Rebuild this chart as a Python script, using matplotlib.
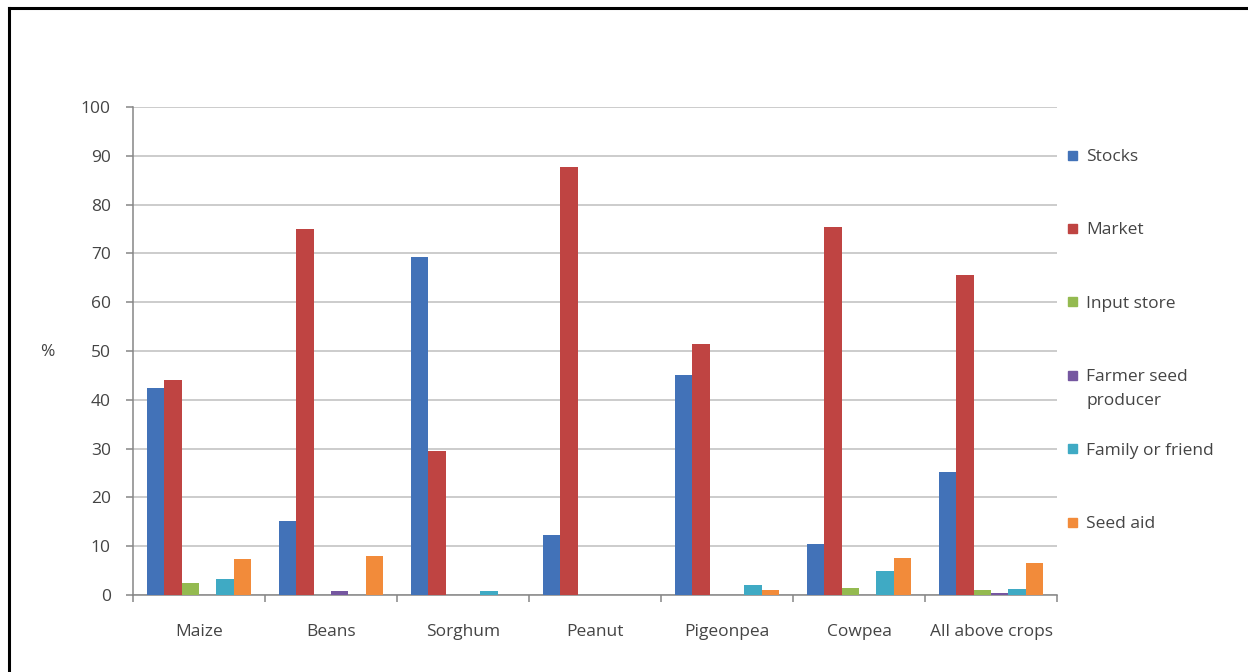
import numpy as np
import matplotlib
matplotlib.use("Agg")
import matplotlib.pyplot as plt
from matplotlib.patches import Rectangle
from matplotlib.lines import Line2D

# --- Datos: origen de la semilla por cultivo (%) ---
cultivos = ["Maize", "Beans", "Sorghum", "Peanut", "Pigeonpea", "Cowpea", "All above crops"]
fuentes = ["Stocks", "Market", "Input store", "Farmer seed\nproducer", "Family or friend", "Seed aid"]

stocks = [42.5, 15.2, 69.3, 12.3, 45.0, 10.4, 25.3]
market = [44.0, 75.0, 29.5, 87.8, 51.5, 75.5, 65.5]
input_store = [2.5, 0.0, 0.0, 0.0, 0.0, 1.4, 1.0]
farmer_seed = [0.0, 0.9, 0.0, 0.0, 0.0, 0.0, 0.5]
family_friend = [3.3, 0.0, 0.9, 0.0, 2.0, 4.9, 1.2]
seed_aid = [7.3, 7.9, 0.0, 0.0, 1.0, 7.6, 6.5]

series = [stocks, market, input_store, farmer_seed, family_friend, seed_aid]
colores = ["#4272B8", "#BF4442", "#94BA50", "#7557A0", "#3FAAC4", "#F28B3A"]

plt.rcParams["font.family"] = ["Open Sans", "DejaVu Sans"]
texto = "#444444"
tam = 12.5

W, H = 1248, 672
fig = plt.figure(figsize=(W / 100, H / 100), dpi=100)

# marco negro del recuadro (arriba e izquierda)
fig.add_artist(Line2D([9 / W, 9 / W], [0, 1 - 8 / H], transform=fig.transFigure,
                      color="black", lw=2.2))
fig.add_artist(Line2D([9 / W, 1], [1 - 8 / H, 1 - 8 / H], transform=fig.transFigure,
                      color="black", lw=2.2))

ax = fig.add_axes([133 / W, 1 - 595 / H, (1057 - 133) / W, (595 - 107) / H])

x = np.arange(len(cultivos))
ancho = 0.131
for i, (vals, col) in enumerate(zip(series, colores)):
    desplaz = (i - 2.5) * ancho
    ax.bar(x + desplaz, vals, width=ancho, color=col, linewidth=0, zorder=3)

ax.set_xlim(-0.5, len(cultivos) - 0.5)
ax.set_ylim(0, 100)
ax.set_yticks(range(0, 101, 10))
ax.grid(axis="y", color="#BFBFBF", lw=1.1, zorder=0)

for lado in ["top", "right"]:
    ax.spines[lado].set_visible(False)
for lado in ["left", "bottom"]:
    ax.spines[lado].set_color("#868686")
    ax.spines[lado].set_linewidth(1.1)

ax.tick_params(axis="y", direction="out", length=5, width=1.1, color="#868686",
               labelsize=tam, labelcolor=texto, pad=11)
ax.set_xticks(x)
ax.set_xticklabels(cultivos)
ax.tick_params(axis="x", which="major", length=0, labelsize=tam, labelcolor=texto, pad=21)
ax.set_xticks(np.arange(-0.5, len(cultivos)), minor=True)
ax.tick_params(axis="x", which="minor", direction="out", length=5, width=1.1, color="#868686")

fig.text(47 / W, 1 - 352 / H, "%", fontsize=tam, color=texto, ha="center", va="center")

# leyenda a la derecha: cuadro de color y texto línea por línea
for i, (nombre, col) in enumerate(zip(fuentes, colores)):
    yc = 155 + i * 73.4
    fig.add_artist(Rectangle((1068 / W, 1 - (yc + 4.5) / H), 9 / W, 9 / H,
                             transform=fig.transFigure, color=col))
    for k, linea in enumerate(nombre.split("\n")):
        fig.text(1086 / W, 1 - (yc + 6 + k * 24) / H, linea, fontsize=tam, color=texto,
                 ha="left", va="baseline")

fig.savefig("out.png", dpi=100, facecolor="white")
